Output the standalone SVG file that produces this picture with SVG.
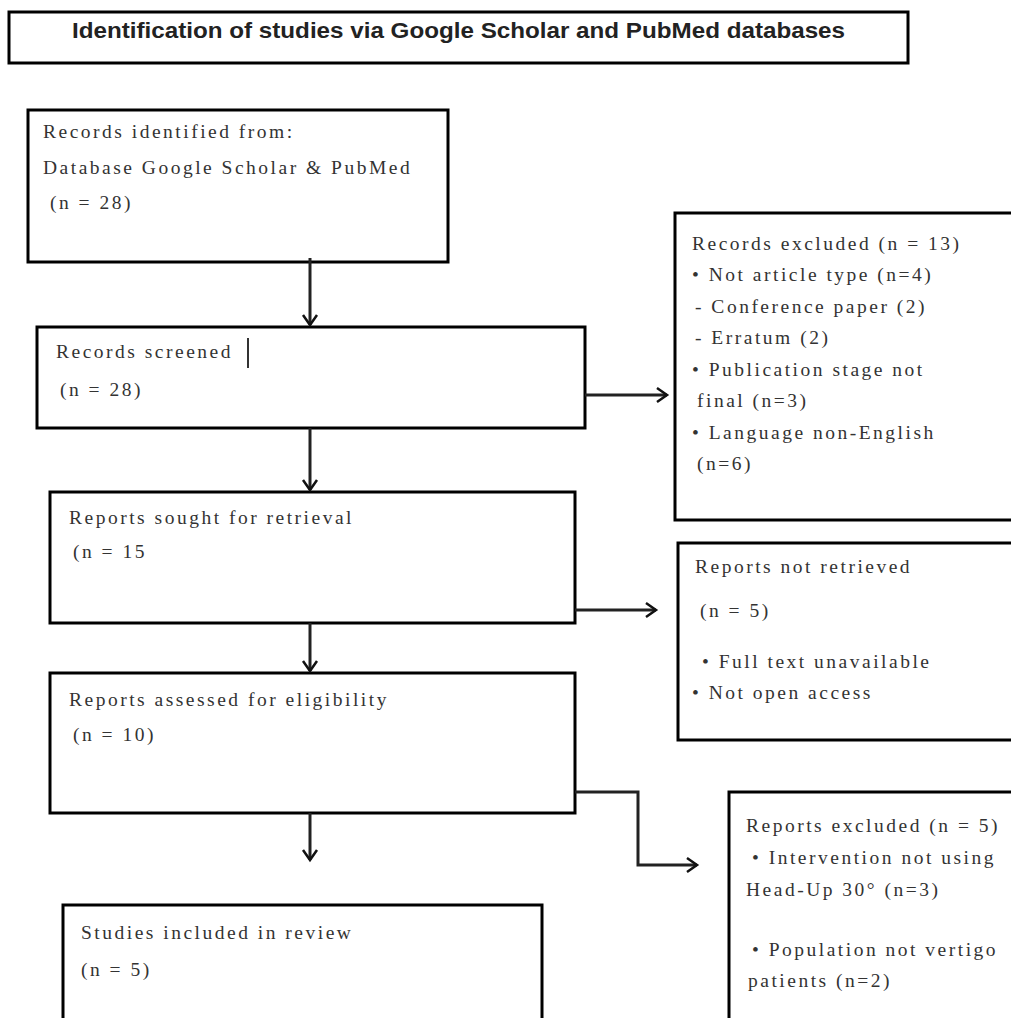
<svg xmlns="http://www.w3.org/2000/svg" width="1011" height="1018" viewBox="0 0 1011 1018">
<defs>
<style>
.box{fill:#fff;stroke:#000;stroke-width:3}
.t{font-family:"Liberation Serif","Times New Roman",serif;font-size:19.5px;letter-spacing:2.5px;fill:#333}
.h{font-family:"Liberation Sans",Arial,sans-serif;font-size:22px;font-weight:bold;fill:#222}
.c{fill:none;stroke:#222;stroke-width:3}
</style>
<marker id="ah" markerUnits="userSpaceOnUse" markerWidth="20" markerHeight="20" viewBox="0 0 20 20" refX="14" refY="10" orient="auto">
<path d="M4,3 L14,10 L4,17" fill="none" stroke="#111" stroke-width="2.5"/>
</marker>
</defs>
<rect width="1011" height="1018" fill="#fff"/>

<g id="header">
<rect class="box" x="9" y="12" width="899" height="51"/>
<text class="h" x="72" y="38" textLength="773" lengthAdjust="spacingAndGlyphs">Identification of studies via Google Scholar and PubMed databases</text>
</g>

<g id="identified">
<rect class="box" x="28" y="110" width="420" height="152"/>
<text class="t" x="43" y="138">Records identified from:</text>
<text class="t" x="43" y="174">Database Google Scholar &amp; PubMed</text>
<text class="t" x="50" y="209">(n = 28)</text>
</g>

<g id="screened">
<rect class="box" x="37" y="327" width="548" height="101"/>
<text class="t" x="56" y="358">Records screened</text>
<line x1="248" y1="338" x2="248" y2="368" stroke="#333" stroke-width="2"/>
<text class="t" x="60" y="396">(n = 28)</text>
</g>

<g id="excluded1">
<rect class="box" x="675" y="213" width="360" height="307"/>
<text class="t" x="692" y="250">Records excluded (n = 13)</text>
<text class="t" x="692" y="281">• Not article type (n=4)</text>
<text class="t" x="695" y="313">- Conference paper (2)</text>
<text class="t" x="695" y="344">- Erratum (2)</text>
<text class="t" x="692" y="376">• Publication stage not</text>
<text class="t" x="697" y="407">final (n=3)</text>
<text class="t" x="692" y="439">• Language non-English</text>
<text class="t" x="697" y="470">(n=6)</text>
</g>

<g id="sought">
<rect class="box" x="50" y="492" width="525" height="131"/>
<text class="t" x="69" y="524">Reports sought for retrieval</text>
<text class="t" x="73" y="558">(n = 15</text>
</g>

<g id="notretrieved">
<rect class="box" x="678" y="543" width="360" height="197"/>
<text class="t" x="695" y="573">Reports not retrieved</text>
<text class="t" x="700" y="617">(n = 5)</text>
<text class="t" x="702" y="668">• Full text unavailable</text>
<text class="t" x="692" y="699">• Not open access</text>
</g>

<g id="assessed">
<rect class="box" x="50" y="673" width="525" height="140"/>
<text class="t" x="69" y="706">Reports assessed for eligibility</text>
<text class="t" x="73" y="741">(n = 10)</text>
</g>

<g id="excluded2">
<rect class="box" x="729" y="792" width="320" height="260"/>
<text class="t" x="746" y="832">Reports excluded (n = 5)</text>
<text class="t" x="752" y="864">• Intervention not using</text>
<text class="t" x="746" y="896">Head-Up 30° (n=3)</text>
<text class="t" x="752" y="956">• Population not vertigo</text>
<text class="t" x="748" y="987">patients (n=2)</text>
</g>

<g id="included">
<rect class="box" x="63" y="905" width="479" height="140"/>
<text class="t" x="81" y="939">Studies included in review</text>
<text class="t" x="81" y="976">(n = 5)</text>
</g>

<g id="connectors">
<path class="c" d="M310,258 L310,325" marker-end="url(#ah)"/>
<path class="c" d="M310,428 L310,490" marker-end="url(#ah)"/>
<path class="c" d="M310,623 L310,671" marker-end="url(#ah)"/>
<path class="c" d="M310,813 L310,860" marker-end="url(#ah)"/>
<path class="c" d="M585,395 L667,395" marker-end="url(#ah)"/>
<path class="c" d="M575,610 L656,610" marker-end="url(#ah)"/>
<path class="c" d="M575,792 L638,792 L638,865 L697,865" marker-end="url(#ah)"/>
</g>
</svg>
